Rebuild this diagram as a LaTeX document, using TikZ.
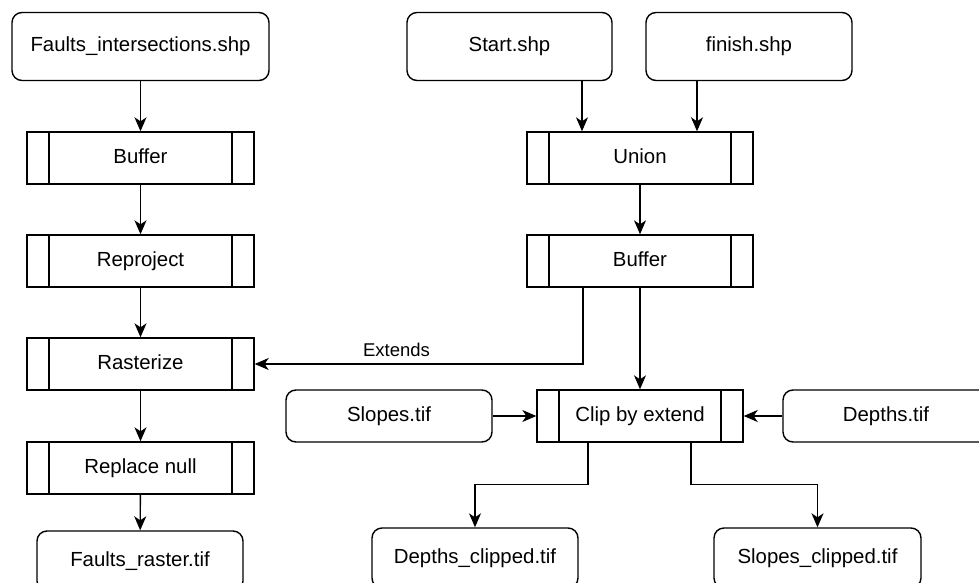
\documentclass[tikz,border=0pt]{standalone}
\usepackage{fontspec}
\setmainfont{Liberation Sans}
\usetikzlibrary{arrows.meta,calc}
\begin{document}
\begin{tikzpicture}[x=1pt,y=-1pt,
  base/.style={draw, line width=1.4pt, font=\fontsize{20.4}{24}\selectfont,
    text height=14.6pt, text depth=4pt, inner sep=0pt, align=center},
  data/.style={base, rounded corners=10pt, minimum width=206pt, minimum height=68pt},
  proc/.style={base, minimum width=227pt, minimum height=52pt,
    path picture={
      \draw[line width=1.4pt] ([xshift=22pt]path picture bounding box.north west)
        -- ([xshift=22pt]path picture bounding box.south west);
      \draw[line width=1.4pt] ([xshift=-22pt]path picture bounding box.north east)
        -- ([xshift=-22pt]path picture bounding box.south east);
    }},
  arr/.style={-{Stealth[length=14pt,width=12pt,inset=4pt]}, line width=1.4pt},
  lbl/.style={font=\fontsize{18.5}{22}\selectfont, inner sep=0pt, anchor=base}
]
\useasboundingbox (0,0) rectangle (979,583);
\clip (0,0) rectangle (979,583);

% left chain: fault intersections to raster
\node[data, minimum width=257pt] (fi) at (140.5,46.5) {Faults\_intersections.shp};
\node[proc] (buf1) at (140.5,158) {Buffer};
\node[proc] (rep) at (140.5,261) {Reproject};
\node[proc] (ras) at (140.5,364) {Rasterize};
\node[proc] (rnull) at (140.5,468) {Replace null};
\node[data, minimum height=60pt] (fraster) at (140,561) {Faults\_raster.tif};

% right chain: start/finish extent
\node[data, minimum width=205pt] (start) at (509.5,46.5) {Start.shp};
\node[data] (finish) at (749,46.5) {finish.shp};
\node[proc, minimum width=226pt] (union) at (640,158) {Union};
\node[proc, minimum width=226pt] (buf2) at (640,261) {Buffer};

% clipping of the rasters
\node[proc, minimum width=206pt] (clip) at (640,416) {Clip by extend};
\node[data, minimum height=52pt] (slopes) at (389,416) {Slopes.tif};
\node[data, minimum height=52pt] (depths) at (886,416) {Depths.tif};
\node[data, minimum height=60pt] (dclip) at (475,558) {Depths\_clipped.tif};
\node[data, minimum height=60pt, minimum width=207pt] (sclip) at (817.5,558) {Slopes\_clipped.tif};

% connectors
\draw[arr] (fi) -- (buf1);
\draw[arr] (buf1) -- (rep);
\draw[arr] (rep) -- (ras);
\draw[arr] (ras) -- (rnull);
\draw[arr] (rnull) -- (fraster);

\draw[arr] ([xshift=-58pt]union.north |- start.south) -- ([xshift=-58pt]union.north);
\draw[arr] ([xshift=57pt]union.north |- finish.south) -- ([xshift=57pt]union.north);
\draw[arr] (union) -- (buf2);
\draw[arr] (buf2) -- (clip);
\draw[arr] ([xshift=-57pt]buf2.south) |- (ras.east)
  node[lbl, pos=0.784, yshift=7.4pt] {Extends};

\draw[arr] (slopes) -- (clip);
\draw[arr] (depths) -- (clip);
\draw[arr] ([xshift=-52pt]clip.south) -- ++(0,42) -| (dclip.north);
\draw[arr] ([xshift=51pt]clip.south) -- ++(0,42) -| (sclip.north);
\end{tikzpicture}
\end{document}
